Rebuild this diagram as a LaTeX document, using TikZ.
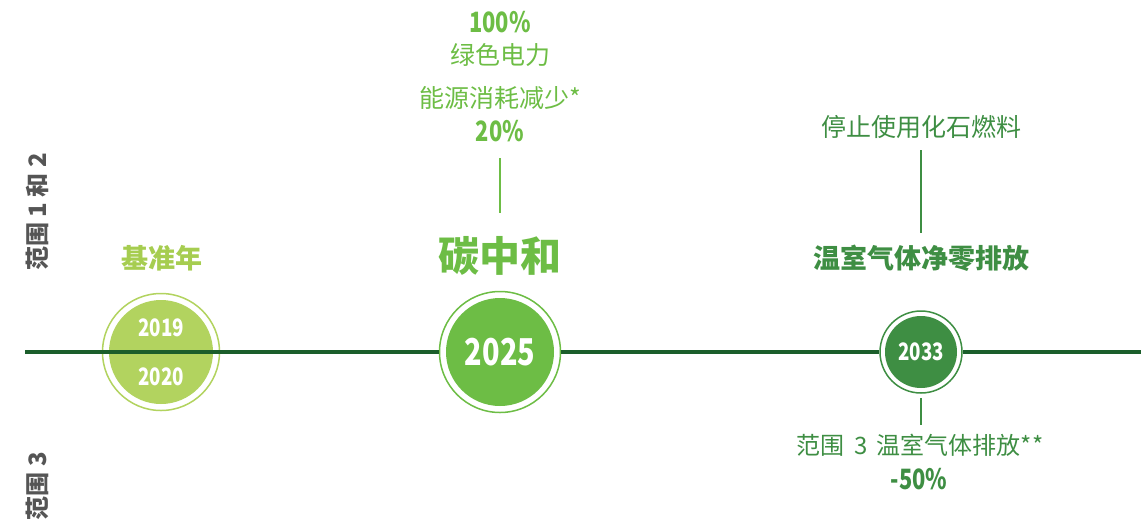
\documentclass[tikz,border=0pt]{standalone}
\usepackage{fontspec}
\setmainfont{Noto Sans CJK SC}
\newfontfamily\numfont[FakeStretch=0.78]{Noto Sans CJK SC}
\definecolor{lineg}{HTML}{1B5E2B}
\definecolor{lg}{HTML}{B2D35F}
\definecolor{lgt}{HTML}{A6CD50}
\definecolor{mg}{HTML}{6DBD45}
\definecolor{dg}{HTML}{3E8E43}
\definecolor{gr}{HTML}{555555}
\begin{document}
\begin{tikzpicture}[x=1pt,y=-1pt,
  ring/.style={circle,draw=#1,line width=1.5pt,fill=white,inner sep=0pt},
  disc/.style={circle,fill=#1,inner sep=0pt},
  yr/.style={text=white,font=\numfont\bfseries\fontsize{#1}{#1}\selectfont,inner sep=0pt},
  lbl/.style={font=\fontsize{#1}{#1}\selectfont,inner sep=0pt},
  blbl/.style={font=\bfseries\fontsize{#1}{#1}\selectfont,inner sep=0pt},
  num/.style={font=\numfont\bfseries\fontsize{#1}{#1}\selectfont,inner sep=0pt},
  tick/.style={draw=#1,line width=1.5pt}]
\useasboundingbox (0,0) rectangle (1141,523);
% timeline
\coordinate (ls) at (25,352);
\coordinate (le) at (1141,352);
% circles
\node[ring=lg,minimum size=117pt] (c1o) at (161,352) {};
\node[disc=lg,minimum size=104pt] (c1) at (161,352) {};
\node[ring=mg,minimum size=121pt] (c2o) at (500,352) {};
\node[disc=mg,minimum size=108pt] (c2) at (500,352) {};
\node[ring=dg,minimum size=82pt] (c3o) at (921,352) {};
\node[disc=dg,minimum size=72pt] (c3) at (921,352) {};
\draw[lineg,line width=3.5pt] (ls) -- (c1o.west);
\draw[lineg,line width=3.5pt] (c1o.east) -- (c2o.west);
\draw[lineg,line width=3.5pt] (c2o.east) -- (c3o.west);
\draw[lineg,line width=3.5pt] (c3o.east) -- (le);
% line passes across the baseline circle
\draw[lineg,line width=3.5pt] (c1o.west) -- (c1o.east);
% years
\node[yr=24] (y2019) at (161,328) {2019};
\node[yr=24] (y2020) at (161,377) {2020};
\node[yr=37] (y2025) at (500,352) {2025};
\node[yr=24] (y2033) at (921,352) {2033};
% labels 2019/20
\node[blbl=27,text=lgt] (base) at (162,258) {基准年};
% 2025
\node[blbl=41,text=mg] (cn) at (500,256) {碳中和};
\node[num=28,text=mg] (p100) at (500,22) {100\%};
\node[lbl=25,text=mg] (green) at (500,55) {绿色电力};
\node[lbl=25,text=mg] (energy) at (500,98) {能源消耗减少*};
\node[num=28,text=mg] (p20) at (500,131) {20\%};
\coordinate (t2a) at (500,158);
\coordinate (t2b) at (500,213);
\draw[tick=mg] (t2a) -- (t2b);
% 2033
\node[blbl=27,text=dg] (nz) at (921,258) {温室气体净零排放};
\node[lbl=25,text=dg] (fossil) at (921,127) {停止使用化石燃料};
\coordinate (t3a) at (921,150);
\coordinate (t3b) at (921,233);
\draw[tick=dg] (t3a) -- (t3b);
\coordinate (t3c) at (921,398);
\coordinate (t3d) at (921,425);
\draw[tick=dg] (t3c) -- (t3d);
\node[lbl=24,text=dg] (s3) at (920,445) {范围\,\ 3\,\ 温室气体排放**};
\node[num=28,text=dg] (p50) at (919,479) {-50\%};
% side labels
\node[blbl=24,text=gr,rotate=90] (s12) at (37,212) {范围\ 1\ 和\ 2};
\node[blbl=24,text=gr,rotate=90] (s3l) at (37,486) {范围\ 3};
\end{tikzpicture}
\end{document}
